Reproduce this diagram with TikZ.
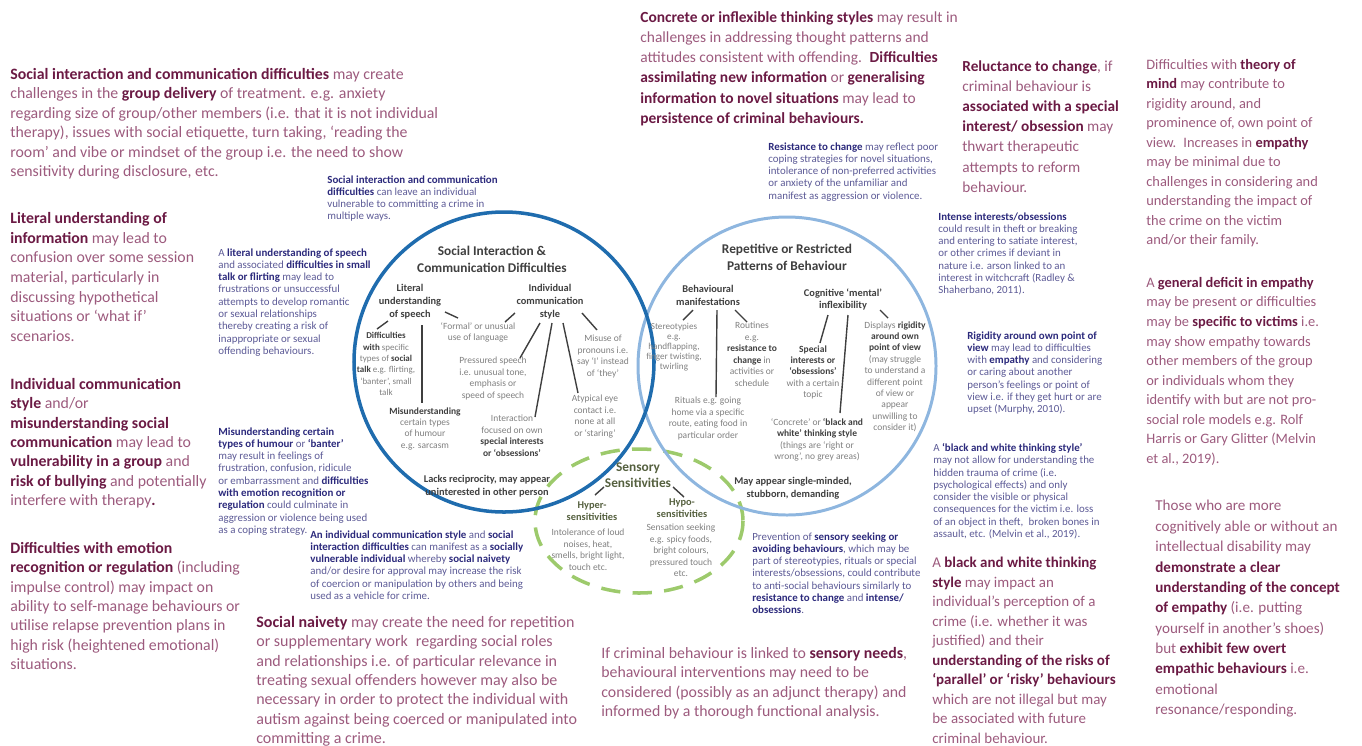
\documentclass[tikz,border=0pt]{standalone}
\usepackage{fontspec}
\setmainfont{Carlito}
\definecolor{pinkbold}{HTML}{6B1A44}
\definecolor{pinktext}{HTML}{9C5A7D}
\definecolor{navybold}{HTML}{2C2A7C}
\definecolor{navytext}{HTML}{5C5A96}
\definecolor{greytext}{HTML}{808080}
\definecolor{darkgrey}{HTML}{3F3F3F}
\definecolor{sensedark}{HTML}{55603F}
\definecolor{socialblue}{HTML}{1F6CAE}
\definecolor{patternblue}{HTML}{8EB6DF}
\definecolor{sensegreen}{HTML}{9DCA6C}
\newcommand{\hlp}[1]{\textbf{\color{pinkbold}#1}}
\newcommand{\hln}[1]{\textbf{\color{navybold}#1}}
\newcommand{\hld}[1]{\textbf{\color{darkgrey}#1}}

\begin{document}
\begin{tikzpicture}[x=0.02cm, y=-0.02cm,
  pinkbox/.style={anchor=north west, align=left, inner sep=0pt, text=pinktext, font=\fontsize{8.7}{11.1}\selectfont},
  navybox/.style={anchor=north west, align=left, inner sep=0pt, text=navytext, font=\fontsize{6.2}{7}\selectfont},
  heading/.style={anchor=north, align=center, inner sep=0pt, text=darkgrey, font=\bfseries\fontsize{7.6}{9.6}\selectfont},
  branch/.style={anchor=north, align=center, inner sep=0pt, text=darkgrey, font=\bfseries\fontsize{5.9}{7.3}\selectfont},
  leaf/.style={anchor=north, align=center, inner sep=0pt, text=greytext, font=\fontsize{5.4}{6.5}\selectfont},
  link/.style={draw=darkgrey, line width=0.8pt}]
        \useasboundingbox (0,0) rectangle (1362,745);

        %三個圓：感官、重複行為、社交溝通
        \draw[sensegreen, line width=2pt, dash pattern=on 11pt off 7pt] (639,521) ellipse [x radius=104, y radius=72];
        \draw[patternblue, line width=1.7pt] (787,366) circle (149);
        \draw[socialblue, line width=2pt] (504,362) circle (150);

        % 左邊文字
        \node[pinkbox, font=\fontsize{9}{11.1}\selectfont] (groupdelivery) at (10,68)
        {\hlp{Social interaction and communication difficulties} may create\\challenges in the \hlp{group delivery} of treatment. e.g. anxiety\\regarding size of group/other members (i.e. that it is not individual\\therapy), issues with social etiquette, turn taking, ‘reading the\\room’ and vibe or mindset of the group i.e. the need to show\\sensitivity during disclosure, etc.};
        \node[pinkbox, font=\fontsize{9}{11.2}\selectfont] (literalinfo) at (10,212)
        {\hlp{Literal understanding of}\\\hlp{information} may lead to\\confusion over some session\\material, particularly in\\discussing hypothetical\\situations or ‘what if’\\scenarios.};
        \node[pinkbox, font=\fontsize{9}{11}\selectfont] (commstyle) at (10,378)
        {\hlp{Individual communication}\\\hlp{style} and/or\\\hlp{misunderstanding social}\\\hlp{communication} may lead to\\\hlp{vulnerability in a group} and\\\hlp{risk of bullying} and potentially\\interfere with therapy\hlp{.}};
        \node[pinkbox, font=\fontsize{9}{11}\selectfont] (emotionreg) at (10,542)
        {\hlp{Difficulties with emotion}\\\hlp{recognition or regulation} (including\\impulse control) may impact on\\ability to self-manage behaviours or\\utilise relapse prevention plans in\\high risk (heightened emotional)\\situations.};
        \node[pinkbox, font=\fontsize{9.1}{11}\selectfont] (naivety) at (256,616)
        {\hlp{Social naivety} may create the need for repetition\\or supplementary work\enspace regarding social roles\\and relationships i.e. of particular relevance in\\treating sexual offenders however may also be\\necessary in order to protect the individual with\\autism against being coerced or manipulated into\\committing a crime.};
        \node[pinkbox, font=\fontsize{9}{11}\selectfont] (sensoryneeds) at (601,647)
        {If criminal behaviour is linked to \hlp{sensory needs},\\behavioural interventions may need to be\\considered (possibly as an adjunct therapy) and\\informed by a thorough functional analysis.};

        % 右邊文字
        \node[pinkbox, font=\fontsize{8.8}{11.5}\selectfont] (concrete) at (640,11)
        {\hlp{Concrete or inflexible thinking styles} may result in\\challenges in addressing thought patterns and\\attitudes consistent with offending.\enspace\hlp{Difficulties}\\\hlp{assimilating new information} or \hlp{generalising}\\\hlp{information to novel situations} may lead to\\\hlp{persistence of criminal behaviours.}};
        \node[pinkbox, font=\fontsize{8.7}{11.5}\selectfont] (reluctance) at (962,60)
        {\hlp{Reluctance to change}, if\\criminal behaviour is\\\hlp{associated with a special}\\\hlp{interest/ obsession} may\\thwart therapeutic\\attempts to reform\\behaviour.};
        \node[pinkbox, font=\fontsize{8.2}{11.1}\selectfont] (theorymind) at (1146,59)
        {Difficulties with \hlp{theory of}\\\hlp{mind} may contribute to\\rigidity around, and\\prominence of, own point of\\view.\enspace Increases in \hlp{empathy}\\may be minimal due to\\challenges in considering and\\understanding the impact of\\the crime on the victim\\and/or their family.};
        \node[pinkbox, font=\fontsize{8.2}{11.1}\selectfont] (deficit) at (1146,277)
        {A \hlp{general deficit in empathy}\\may be present or difficulties\\may be \hlp{specific to victims} i.e.\\may show empathy towards\\other members of the group\\or individuals whom they\\identify with but are not pro-\\social role models e.g. Rolf\\Harris or Gary Glitter (Melvin\\et al., 2019).};
        \node[pinkbox, font=\fontsize{8.6}{11.6}\selectfont] (ableempathy) at (1155,500)
        {Those who are more\\cognitively able or without an\\intellectual disability may\\\hlp{demonstrate a clear}\\\hlp{understanding of the concept}\\\hlp{of empathy} (i.e. putting\\yourself in another’s shoes)\\but \hlp{exhibit few overt}\\\hlp{empathic behaviours} i.e.\\emotional\\resonance/responding.};
        \node[pinkbox, font=\fontsize{8.5}{11.1}\selectfont] (bwstyle) at (932,557)
        {A \hlp{black and white thinking}\\\hlp{style} may impact an\\individual’s perception of a\\crime (i.e. whether it was\\justified) and their\\\hlp{understanding of the risks of}\\\hlp{‘parallel’ or ‘risky’ behaviours}\\which are not illegal but may\\be associated with future\\criminal behaviour.};

        % 藍色小字
        \node[navybox] (vulnerable) at (327,175)
        {\hln{Social interaction and communication}\\\hln{difficulties} can leave an individual\\vulnerable to committing a crime in\\multiple ways.};
        \node[navybox] (literalspeech) at (218,248)
        {A \hln{literal understanding of speech}\\and associated \hln{difficulties in small}\\\hln{talk or flirting} may lead to\\frustrations or unsuccessful\\attempts to develop romantic\\or sexual relationships\\thereby creating a risk of\\inappropriate or sexual\\offending behaviours.};
        \node[navybox] (humour) at (218,427)
        {\hln{Misunderstanding certain}\\\hln{types of humour} or \hln{‘banter’}\\may result in feelings of\\frustration, confusion, ridicule\\or embarrassment and \hln{difficulties}\\\hln{with emotion recognition or}\\\hln{regulation} could culminate in\\aggression or violence being used\\as a coping strategy.};
        \node[navybox] (vehicle) at (310,530)
        {\hln{An individual communication style} and \hln{social}\\\hln{interaction difficulties} can manifest as a \hln{socially}\\\hln{vulnerable individual} whereby \hln{social naivety}\\and/or desire for approval may increase the risk\\of coercion or manipulation by others and being\\used as a vehicle for crime.};
        \node[navybox] (resistance) at (768,142)
        {\hln{Resistance to change} may reflect poor\\coping strategies for novel situations,\\intolerance of non-preferred activities\\or anxiety of the unfamiliar and\\manifest as aggression or violence.};
        \node[navybox] (intense) at (938,212)
        {\hln{Intense interests/obsessions}\\could result in theft or breaking\\and entering to satiate interest,\\or other crimes if deviant in\\nature i.e. arson linked to an\\interest in witchcraft (Radley \&\\Shaherbano, 2011).};
        \node[navybox] (rigidity) at (967,331)
        {\hln{Rigidity around own point of}\\\hln{view} may lead to difficulties\\with \hln{empathy} and considering\\or caring about another\\person’s feelings or point of\\view i.e. if they get hurt or are\\upset (Murphy, 2010).};
        \node[navybox] (bwcrime) at (933,443)
        {A \hln{‘black and white thinking style’}\\may not allow for understanding the\\hidden trauma of crime (i.e.\\psychological effects) and only\\consider the visible or physical\\consequences for the victim i.e. loss\\of an object in theft,\enspace broken bones in\\assault, etc. (Melvin et al., 2019).};
        \node[navybox] (prevention) at (752,532)
        {Prevention of \hln{sensory seeking or}\\\hln{avoiding behaviours}, which may be\\part of stereotypies, rituals or special\\interests/obsessions, could contribute\\to anti-social behaviours similarly to\\\hln{resistance to change} and \hln{intense/}\\\hln{obsessions}.};

        % 圓內文字
        \node[heading] (socialhead) at (492,246) {Social Interaction \&\\Communication Difficulties};
        \node[branch] (literal) at (410,284) {Literal\\understanding\\of speech};
        \node[branch] (style) at (550,284) {Individual\\communication\\style};
        \node[leaf] (formal) at (478,322) {‘Formal’ or unusual\\use of language};
        \node[leaf, font=\fontsize{5.1}{6.5}\selectfont] (smalltalk) at (386,332) {\hld{Difficulties}\\\hld{with} specific\\types of \hld{social}\\\hld{talk} e.g. flirting,\\‘banter’, small\\talk};
        \node[leaf] (sarcasm) at (425,407) {\hld{Misunderstanding}\\certain types\\of humour\\e.g. sarcasm};
        \node[leaf] (pressured) at (493,357) {Pressured speech\\i.e. unusual tone,\\emphasis or\\speed of speech};
        \node[leaf] (pronouns) at (603,335) {Misuse of\\pronouns i.e.\\say ‘I’ instead\\of ‘they’};
        \node[leaf] (eyecontact) at (595,395) {Atypical eye\\contact i.e.\\none at all\\or ‘staring’};
        \node[leaf] (owninterest) at (512,415) {Interaction\\focused on own\\\hld{special interests}\\\hld{or ‘obsessions’}};
        \node[branch] (reciprocity) at (487,475) {Lacks reciprocity, may appear\\uninterested in other person};

        \node[heading] (patternhead) at (787,244) {Repetitive or Restricted\\Patterns of Behaviour};
        \node[branch] (manifest) at (708,285) {Behavioural\\manifestations};
        \node[branch] (inflex) at (843,288) {Cognitive ‘mental’\\inflexibility};
        \node[leaf, font=\fontsize{5.2}{5.6}\selectfont] (stereo) at (674,323) {Stereotypies\\e.g.\\handflapping,\\finger twisting,\\twirling};
        \node[leaf] (routines) at (752,322) {Routines\\e.g.\\\hld{resistance to}\\\hld{change} in\\activities or\\schedule};
        \node[leaf] (rituals) at (708,397) {Rituals e.g. going\\home via a specific\\route, eating food in\\particular order};
        \node[leaf] (special) at (813,345) {\hld{Special}\\\hld{interests or}\\\hld{‘obsessions’}\\with a certain\\topic};
        \node[leaf] (rigid) at (895,321) {Displays \hld{rigidity}\\\hld{around own}\\\hld{point of view}\\(may struggle\\to understand a\\different point\\of view or\\appear\\unwilling to\\consider it)};
        \node[leaf] (blackwhite) at (817,418) {‘Concrete’ or \hld{‘black and}\\\hld{white’ thinking style}\\(things are ‘right or\\wrong’, no grey areas)};
        \node[branch] (singleminded) at (793,477) {May appear single-minded,\\stubborn, demanding};

        \node[heading, text=sensedark] (sensehead) at (638,462) {Sensory\\Sensitivities};
        \node[branch, text=sensedark] (hyper) at (592,501) {Hyper-\\sensitivities};
        \node[branch, text=sensedark] (hypo) at (682,498) {Hypo-\\sensitivities};
        \node[leaf] (intolerance) at (588,529) {Intolerance of loud\\noises, heat,\\smells, bright light,\\touch etc.};
        \node[leaf] (seeking) at (681,524) {Sensation seeking\\e.g. spicy foods,\\bright colours,\\pressured touch\\etc.};

        % 連線的端點
        \coordinate (literal-1) at (388,321);  \coordinate (smalltalk-in) at (377,329);
        \coordinate (literal-2) at (445,312);  \coordinate (formal-l) at (458,318);
        \coordinate (literal-3) at (422,325);  \coordinate (sarcasm-in) at (422,403);
        \coordinate (style-1) at (515,313);    \coordinate (formal-r) at (505,322);
        \coordinate (style-2) at (540,323);    \coordinate (pressured-in) at (520,358);
        \coordinate (style-3) at (552,323);    \coordinate (owninterest-in) at (535,417);
        \coordinate (style-4) at (563,323);    \coordinate (eyecontact-in) at (578,393);
        \coordinate (style-5) at (582,313);    \coordinate (pronouns-in) at (597,330);
        \coordinate (manifest-1) at (693,310); \coordinate (stereo-in) at (683,320);
        \coordinate (manifest-2) at (717,310); \coordinate (rituals-in) at (716,397);
        \coordinate (manifest-3) at (735,310); \coordinate (routines-in) at (747,322);
        \coordinate (inflex-1) at (828,315);   \coordinate (special-in) at (820,343);
        \coordinate (inflex-2) at (848,315);   \coordinate (blackwhite-in) at (840,413);
        \coordinate (inflex-3) at (880,310);   \coordinate (rigid-in) at (888,318);
        \coordinate (sensehead-1) at (604,487); \coordinate (hyper-in) at (595,495);
        \coordinate (sensehead-2) at (673,487); \coordinate (hypo-in) at (684,497);

        \foreach \s/\e in
        { literal-1/smalltalk-in, literal-2/formal-l, literal-3/sarcasm-in,
          style-1/formal-r, style-2/pressured-in, style-3/owninterest-in,
          style-4/eyecontact-in, style-5/pronouns-in,
          manifest-1/stereo-in, manifest-2/rituals-in, manifest-3/routines-in,
          inflex-1/special-in, inflex-2/blackwhite-in, inflex-3/rigid-in,
          sensehead-1/hyper-in, sensehead-2/hypo-in}
        {
            \draw[link] (\s) -- (\e);
        };
\end{tikzpicture}
\end{document}
